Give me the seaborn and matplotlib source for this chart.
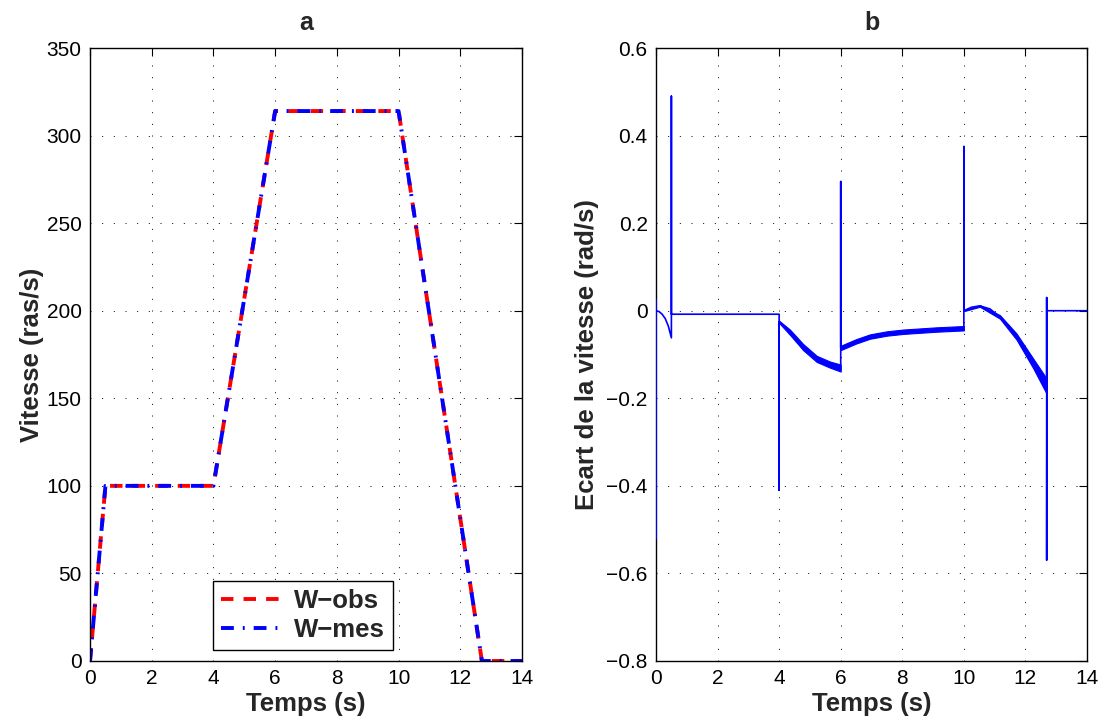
import numpy as np
import pandas as pd
import matplotlib
matplotlib.use("Agg")
import matplotlib.pyplot as plt
import seaborn as sns

# ---------------- data: panel a ----------------
a_time = [0.0, 0.5, 4.0, 6.0, 10.0, 12.7, 14.0]
w_obs = [0.0, 100.0, 100.0, 314.0, 314.0, 0.0, 0.0]
w_mes = [0.0, 100.0, 100.0, 314.0, 314.0, 0.0, 0.0]

# ---------------- data: panel b ----------------
b_time = [0.0, 0.0, 0.0, 0.1, 0.2, 0.3, 0.4, 0.5, 0.5, 0.5,
          4.0, 4.0, 4.0, 4.35, 4.78, 5.22, 5.65, 6.0,
          6.0, 6.0, 6.5, 6.95, 7.5, 8.03, 9.1, 10.0,
          10.0, 10.0, 10.25, 10.52, 10.85, 11.17, 11.45, 11.71, 12.0, 12.25, 12.5, 12.69,
          12.69, 12.69, 12.7, 14.0]
b_err = [0.025, -0.52, 0.0, -0.002, -0.008, -0.018, -0.035, -0.062, 0.49, -0.008,
         -0.008, -0.41, -0.025, -0.048, -0.082, -0.109, -0.122, -0.13,
         0.295, -0.085, -0.07, -0.059, -0.052, -0.048, -0.043, -0.040,
         0.375, 0.0, 0.008, 0.011, 0.004, -0.014, -0.034, -0.059, -0.09, -0.12, -0.148, -0.172,
         0.03, -0.57, 0.0, 0.0]

# oscillation envelopes (thick band of the error signal)
band1_t = [4.0, 4.35, 4.78, 5.22, 5.65, 6.0]
band1_lo = [-0.028, -0.055, -0.090, -0.117, -0.130, -0.139]
band1_hi = [-0.023, -0.043, -0.076, -0.103, -0.116, -0.123]
band2_t = [6.0, 6.5, 6.95, 7.5, 8.03, 9.1, 10.0]
band2_lo = [-0.090, -0.075, -0.064, -0.057, -0.053, -0.048, -0.045]
band2_hi = [-0.080, -0.065, -0.054, -0.047, -0.043, -0.038, -0.035]
band3_t = [10.0, 10.52, 11.17, 11.71, 12.25, 12.69]
band3_lo = [-0.001, 0.009, -0.018, -0.066, -0.131, -0.190]
band3_hi = [0.001, 0.013, -0.010, -0.052, -0.109, -0.155]

x_ticks = [0, 2, 4, 6, 8, 10, 12, 14]
a_yticks = [0, 50, 100, 150, 200, 250, 300, 350]
b_yticks = [-0.8, -0.6, -0.4, -0.2, 0.0, 0.2, 0.4, 0.6]
b_yticklabels = ["\u22120.8", "\u22120.6", "\u22120.4", "\u22120.2", "0", "0.2", "0.4", "0.6"]

# ---------------- style ----------------
sns.set_style("white", {"axes.edgecolor": "black"})
plt.rcParams["font.family"] = ["Liberation Sans", "DejaVu Sans"]
plt.rcParams["axes.linewidth"] = 1.0

fig = plt.figure(figsize=(11.05, 7.26), dpi=100)
W, H = 1105, 726
axa = fig.add_axes([90 / W, 65 / H, 432 / W, 613 / H])
axb = fig.add_axes([656 / W, 65 / H, 431 / W, 613 / H])

# panel a
sns.lineplot(x=a_time, y=w_obs, ax=axa, color=(1, 0, 0), lw=2.8,
             linestyle=(0, (3.2, 2.6)), label="W\u2212obs",
             estimator=None, sort=False)
sns.lineplot(x=a_time, y=w_mes, ax=axa, color=(0, 0, 1), lw=2.8,
             linestyle=(0, (3.3, 2.3, 0.5, 2.3)), label="W\u2212mes",
             estimator=None, sort=False)

# panel b
sns.lineplot(x=b_time, y=b_err, ax=axb, color=(0, 0, 1), lw=1.2,
             estimator=None, sort=False, zorder=3)
for bt, lo, hi in [(band1_t, band1_lo, band1_hi),
                   (band2_t, band2_lo, band2_hi),
                   (band3_t, band3_lo, band3_hi)]:
    axb.fill_between(bt, lo, hi, color=(0, 0, 1), lw=0.8, edgecolor=(0, 0, 1), zorder=3)

for ax in (axa, axb):
    ax.set_xlim(0, 14)
    ax.set_xticks(x_ticks)
    ax.set_xticklabels([str(v) for v in x_ticks])
    ax.grid(True, color="black", linestyle=(0, (1, 11)), lw=0.7)
    ax.tick_params(direction="in", length=6, width=0.8, top=True, right=True,
                   labelsize=15, pad=6, colors="black")
    for s in ax.spines.values():
        s.set_visible(True)
        s.set_color("black")
        s.set_linewidth(1.0)
    ax.set_xlabel("Temps (s)", fontsize=18.5, fontweight="bold", labelpad=3)

axa.set_ylim(0, 350)
axa.set_yticks(a_yticks)
axa.set_yticklabels([str(v) for v in a_yticks])
axa.set_ylabel("Vitesse (ras/s)", fontsize=18.5, fontweight="bold", labelpad=2)
axa.set_title("a", fontsize=18, fontweight="bold", pad=13)

axb.set_ylim(-0.8, 0.6)
axb.set_yticks(b_yticks)
axb.set_yticklabels(b_yticklabels)
axb.set_ylabel("Ecart de la vitesse (rad/s)", fontsize=18.5, fontweight="bold", labelpad=5)
axb.set_title("b", fontsize=18, fontweight="bold", pad=13)

leg = axa.legend(loc="lower left", bbox_to_anchor=(0.285, 0.018),
                 frameon=True, fancybox=False, framealpha=1,
                 edgecolor="black", prop={"weight": "bold", "size": 18.5},
                 handlelength=2.5, handletextpad=0.35, borderpad=0.3,
                 labelspacing=0.2, borderaxespad=0)
leg.get_frame().set_linewidth(1.0)

fig.savefig("out.png", dpi=100)
